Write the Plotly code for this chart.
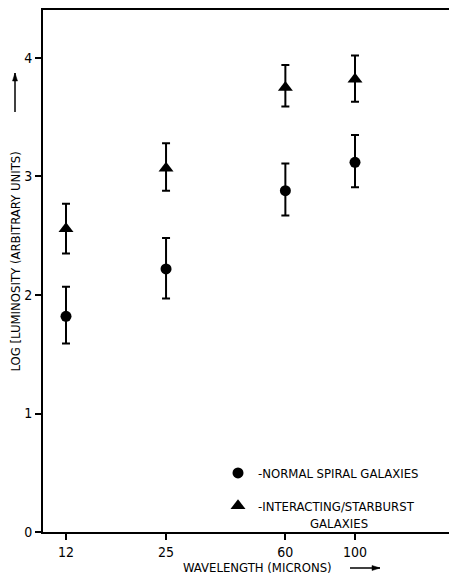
import plotly.graph_objects as go

# Data
wavelengths = [12, 25, 60, 100]
tick_labels = ["12", "25", "60", "100"]

normal_y = [1.82, 2.22, 2.88, 3.12]
normal_err_plus = [0.25, 0.26, 0.23, 0.23]
normal_err_minus = [0.23, 0.25, 0.21, 0.21]

starburst_y = [2.56, 3.07, 3.75, 3.82]
starburst_err_plus = [0.21, 0.21, 0.19, 0.20]
starburst_err_minus = [0.21, 0.19, 0.16, 0.19]

FONT = "Liberation Sans Narrow, DejaVu Sans Condensed, Arial Narrow, sans-serif"

fig = go.Figure()
fig.add_trace(go.Scatter(
    x=wavelengths, y=normal_y, mode="markers",
    name="-NORMAL SPIRAL GALAXIES", legendgroup="a",
    marker=dict(symbol="circle", size=11, color="black"),
    error_y=dict(type="data", symmetric=False, array=normal_err_plus,
                 arrayminus=normal_err_minus, color="black", thickness=2, width=4),
))
fig.add_trace(go.Scatter(
    x=wavelengths, y=starburst_y, mode="markers",
    name="-INTERACTING/STARBURST<br>" + "\u00a0" * 14 + "GALAXIES", legendgroup="b",
    marker=dict(symbol="triangle-up", size=13, color="black"),
    error_y=dict(type="data", symmetric=False, array=starburst_err_plus,
                 arrayminus=starburst_err_minus, color="black", thickness=2, width=4),
))

P_H = 522.0
P_W = 406.0


def arrow_shapes(xp, yp, path_line, path_head):
    common = dict(type="path", xref="paper", yref="paper", xsizemode="pixel",
                  ysizemode="pixel", xanchor=xp, yanchor=yp, layer="above")
    return [
        dict(path=path_line, line=dict(color="black", width=1.5), **common),
        dict(path=path_head, line=dict(color="black", width=0.5),
             fillcolor="black", **common),
    ]


# vertical arrow tip (left of y-axis title) and horizontal arrow tip (after x title)
v_tip = (-28 / P_W, (532 - 73) / P_H)
h_tip = ((380 - 43) / P_W, -(568 - 532) / P_H)
shapes = (arrow_shapes(v_tip[0], v_tip[1], "M0,0 L0,-39", "M0,0 L-2.5,-8 L2.5,-8 Z")
          + arrow_shapes(h_tip[0], h_tip[1], "M0,0 L-30,0", "M0,0 L-8,2.5 L-8,-2.5 Z"))

fig.update_layout(
    template="none",
    width=449, height=577,
    margin=dict(l=43, r=0, t=10, b=45, autoexpand=False),
    paper_bgcolor="white", plot_bgcolor="white",
    font=dict(family=FONT, size=14, color="black"),
    showlegend=True,
    legend=dict(x=(238 - 20 - 43) / P_W, y=(532 - 458) / P_H, xanchor="left", yanchor="top",
                bgcolor="rgba(0,0,0,0)", tracegroupgap=13, valign="top",
                font=dict(family=FONT, size=13, color="black")),
    xaxis=dict(type="log", range=[1.0059, 2.2995], tickvals=wavelengths,
               ticktext=tick_labels, showgrid=False, zeroline=False, automargin=False,
               showline=True, linecolor="black", linewidth=2, mirror=True,
               ticks="outside", ticklen=6, tickwidth=1.5, tickcolor="black",
               tickfont=dict(family=FONT, size=14)),
    yaxis=dict(range=[0, 4.405], tickvals=[0, 1, 2, 3, 4], showgrid=False,
               zeroline=False, showline=True, linecolor="black", linewidth=2,
               automargin=False,
               ticks="outside", ticklen=6, tickwidth=1.5, tickcolor="black",
               tickfont=dict(family=FONT, size=14)),
    shapes=shapes,
    annotations=[
        dict(text="LOG [LUMINOSITY (ARBITRARY UNITS)", textangle=-90,
             xref="paper", yref="paper", x=-43 / P_W, y=(532 - 262) / P_H,
             xanchor="left", yanchor="middle", xshift=5, showarrow=False,
             font=dict(family=FONT, size=13)),
        dict(text="WAVELENGTH (MICRONS)", xref="paper", yref="paper",
             x=(257 - 43) / P_W, y=-(567 - 532) / P_H, xanchor="center",
             yanchor="middle", showarrow=False, font=dict(family=FONT, size=13)),
    ],
)

fig.write_html(
    "out.html",
    config={"displayModeBar": False},
    post_script="document.body.style.margin='0';document.body.style.overflow='hidden';",
)
